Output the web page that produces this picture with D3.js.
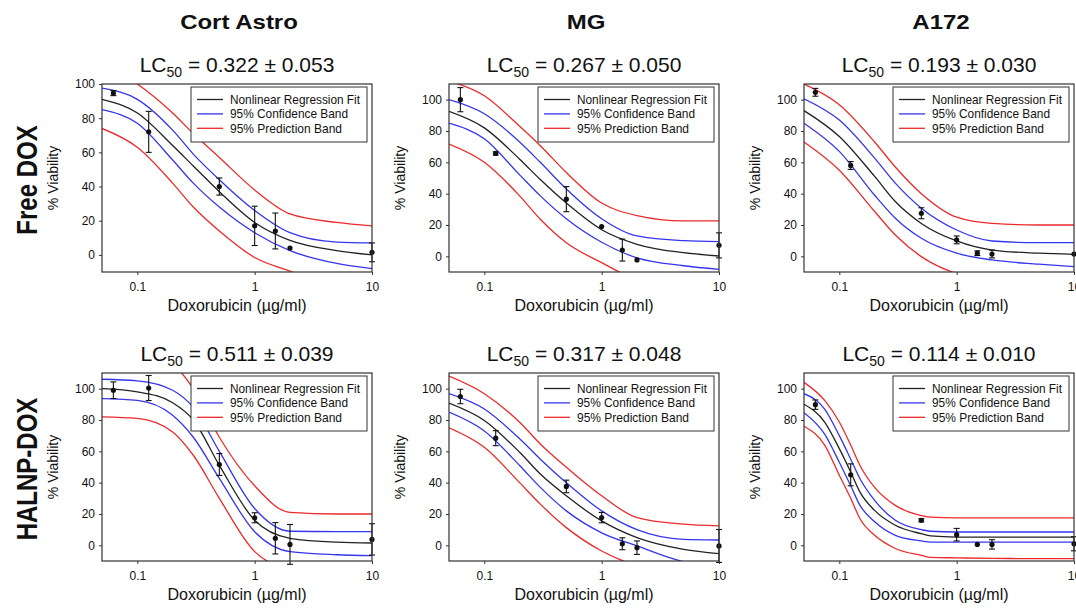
<!DOCTYPE html>
<html>
<head>
<meta charset="utf-8">
<script src="https://cdn.jsdelivr.net/npm/d3@7"></script>
<style>
  body { margin: 0; background: #fff; }
  text { font-family: "Liberation Sans", Arial, sans-serif; fill: #111; }
</style>
</head>
<body>
<div id="chart"></div>
<script>
// columns / rows of the figure
const cellLines = ["Cort Astro", "MG", "A172"];
const treatments = ["Free DOX", "HALNP-DOX"];
// panel order: Free DOX (Cort Astro, MG, A172), then HALNP-DOX (same)
const lc50Text = ["0.322 ± 0.053", "0.267 ± 0.050", "0.193 ± 0.030",
                  "0.511 ± 0.039", "0.317 ± 0.048", "0.114 ± 0.010"];
const yMax = [100, 110, 110, 110, 110, 110];
const xTicks = [0.1, 1, 10];
const yTicks = [0, 20, 40, 60, 80, 100];
const legendLabels = ["Nonlinear Regression Fit", "95% Confidence Band", "95% Prediction Band"];

// measured doses and mean viability (+/- error)
const doses = [0.0625, 0.125, 0.5, 1, 1.5, 2, 10];
const viability = [
  [94.7, 72, 40, 17, 14, 4, 1.5],
  [100, 65.7, 36.5, 19, 4, -2.3, 7],
  [104.7, 58, 27.5, 10.5, 2, 1.5, 1.5],
  [99, 100.4, 51.6, 17.6, 4.5, 0.6, 3.8],
  [95, 68.4, 37.6, 17.7, 1, -1.5, -0.4],
  [89.8, 45, 16, 6.8, 0.6, 0.6, 1]
];
const viabilityErr = [
  [1.5, 12, 5, 11.5, 10.5, 0.5, 5.5],
  [7.7, 1, 8, 0.5, 7, 0, 8],
  [2.5, 2.5, 3.5, 2.5, 1.5, 2.5, 0.5],
  [5.3, 8, 7, 3.2, 10, 12.7, 10],
  [4.6, 4.8, 4, 3.3, 3.8, 4.3, 10.5],
  [3, 7, 1, 4, 0.5, 3, 4.5]
];

// curves at these concentrations
const gridCoarse = [0.05, 0.1, 0.2, 0.3, 0.5, 1, 2, 5, 10];
const gridFine = [0.05, 0.075, 0.1, 0.125, 0.15, 0.2, 0.3, 0.5, 0.6, 1, 2, 5, 10];
const curveGrid = [gridCoarse, gridCoarse, gridCoarse, gridCoarse, gridCoarse, gridFine];

const fitCurve = [
  [91, 83, 64, 52, 37, 19, 8.5, 2.5, 0],
  [92.5, 82, 62, 49, 34, 17, 7.7, 2.3, 0.2],
  [93, 76.5, 51, 35, 21, 9.8, 4, 2, 1.3],
  [100, 98, 91, 80, 51, 16, 4.5, 2, 1.5],
  [90.8, 79.7, 59.4, 45.5, 31.6, 15.6, 4.9, -2.6, -5.3],
  [90, 78.7, 61.7, 46.8, 34, 22.3, 12.8, 7.4, 6, 5.3, 5.3, 5.3, 5.3]
];
const confUpper = [
  [97.6, 91, 73, 59, 44, 26, 13, 7.5, 7],
  [100, 91, 73, 60, 43, 24, 13, 10, 9.4],
  [100.6, 87, 62.7, 46.7, 30.7, 16.8, 9.8, 8.7, 8.7],
  [106, 105, 99, 88, 60, 23.5, 9, 8.7, 8.7],
  [96.8, 87, 68, 55, 40, 22, 10, 3.8, 3.4],
  [96.8, 87, 70, 55, 42.5, 28.7, 16, 10, 9, 8.5, 8.5, 8.5, 8.5]
];
const confLower = [
  [85, 77, 55.5, 42, 28, 13, 2.5, -5, -8],
  [85, 75, 52, 38.6, 24, 9, -1, -6, -8.3],
  [85, 67, 39, 24.3, 11.5, 2, -2.3, -5, -6.6],
  [93.6, 92.5, 83, 69, 42.7, 8.7, -4, -6, -6.6],
  [85, 73, 51, 37, 22, 8, -0.4, -10.5, -14],
  [84.7, 71, 53, 38, 25.5, 15, 6.4, 2.8, 2, 2, 2, 2, 2]
];
const predUpper = [
  [112, 100, 83, 71, 57, 38, 24, 19, 17],
  [112, 102.5, 83, 70.6, 53.5, 34, 26, 22.6, 22.6],
  [110, 96.8, 73, 57, 40, 25, 21, 20, 20],
  [128, 126, 116, 100, 69, 38, 21, 20, 20],
  [108, 96.8, 78.6, 64.7, 49.8, 31.6, 17.7, 13.5, 12.4],
  [104, 92.5, 78.7, 64, 51, 37, 25.5, 19, 18, 17.5, 17.5, 17.5, 17.5]
];
const predLower = [
  [74, 63, 42, 28, 14, -1.5, -9.5, -20, -22],
  [71.6, 60, 38.6, 23.7, 8.7, -4, -15, -20, -22],
  [73, 55, 28.6, 13.6, -0.2, -11, -15, -17, -18],
  [82, 81, 72.4, 57.5, 30, -4, -15, -18, -18],
  [75, 62.6, 40, 26.3, 11.3, -3.6, -13, -18, -20],
  [76, 64, 44.7, 30, 17, 6.4, -2, -6.4, -7.7, -8, -8.3, -8.5, -8.5]
];

const colBlack = "#222", colBlue = "#3535ee", colRed = "#ee2a2a";

const W = 1076, H = 611;
const plotW = 270, plotH = 188;
const colLeft = [102, 449, 804];
const rowTop = [84, 373];

const svg = d3.select("#chart").append("svg")
  .attr("width", W).attr("height", H);
svg.append("rect").attr("width", W).attr("height", H).attr("fill", "#fff");

// column titles
cellLines.forEach((name, c) => {
  svg.append("text")
    .attr("transform", `translate(${colLeft[c] + plotW / 2 + 2},29) scale(1.2,1)`)
    .attr("text-anchor", "middle")
    .style("font-size", "20px").style("font-weight", "bold")
    .text(name);
});

// row titles
treatments.forEach((name, r) => {
  svg.append("text")
    .attr("transform", `translate(37,${rowTop[r] + plotH / 2 + 2}) scale(1.25,1) rotate(-90)`)
    .attr("text-anchor", "middle")
    .style("font-size", "24px").style("font-weight", "bold")
    .text(name);
});

for (let p = 0; p < 6; p++) {
  const r = Math.floor(p / 3), c = p % 3;
  const left = colLeft[c], top = rowTop[r];

  const x = d3.scaleLog().domain([0.05, 10]).range([0, plotW]);
  const y = d3.scaleLinear().domain([-10, yMax[p]]).range([plotH, 0]);

  const g = svg.append("g").attr("transform", `translate(${left},${top})`);

  // LC50 heading
  const t = g.append("text")
    .attr("x", plotW / 2).attr("y", -12)
    .attr("text-anchor", "middle")
    .style("font-size", "21px");
  t.append("tspan").text("LC");
  t.append("tspan").attr("dy", 5).style("font-size", "14px").text("50");
  t.append("tspan").attr("dy", -5).text(" = " + lc50Text[p]);

  const clipId = "clip" + p;
  g.append("clipPath").attr("id", clipId)
    .append("rect").attr("width", plotW).attr("height", plotH);

  const line = d3.line()
    .x(d => x(d[0])).y(d => y(d[1]))
    .curve(d3.curveMonotoneX);

  const grid = curveGrid[p];
  const curves = [
    [predUpper[p], colRed], [predLower[p], colRed],
    [confUpper[p], colBlue], [confLower[p], colBlue],
    [fitCurve[p], colBlack]
  ];
  const cg = g.append("g").attr("clip-path", `url(#${clipId})`);
  curves.forEach(([vals, col]) => {
    cg.append("path")
      .datum(grid.map((xv, i) => [xv, vals[i]]))
      .attr("d", line)
      .attr("fill", "none")
      .attr("stroke", col)
      .attr("stroke-width", 1.3);
  });

  // error bars + points
  const pts = doses.map((d, i) => ({x: d, v: viability[p][i], e: viabilityErr[p][i]}));
  const eb = g.append("g").attr("stroke", "#111").attr("stroke-width", 1.1);
  pts.filter(d => d.e > 0.8).forEach(d => {
    const px = x(d.x);
    eb.append("line").attr("x1", px).attr("x2", px)
      .attr("y1", y(d.v - d.e)).attr("y2", y(d.v + d.e));
    eb.append("line").attr("x1", px - 3).attr("x2", px + 3)
      .attr("y1", y(d.v - d.e)).attr("y2", y(d.v - d.e));
    eb.append("line").attr("x1", px - 3).attr("x2", px + 3)
      .attr("y1", y(d.v + d.e)).attr("y2", y(d.v + d.e));
  });
  g.selectAll(".pt").data(pts).enter().append("circle")
    .attr("class", "pt")
    .attr("cx", d => x(d.x)).attr("cy", d => y(d.v))
    .attr("r", 2.6).attr("fill", "#111");

  // axes
  const yAxis = g.append("g")
    .call(d3.axisLeft(y).tickValues(yTicks).tickSize(3).tickPadding(4));
  const xAxis = g.append("g").attr("transform", `translate(0,${plotH})`)
    .call(d3.axisBottom(x).tickValues(xTicks).tickFormat(d3.format("")).tickSize(3).tickPadding(7));
  [yAxis, xAxis].forEach(a => {
    a.select(".domain").remove();
    a.selectAll("line").attr("stroke", "#333");
    a.selectAll("text").style("font-size", "12px").style("font-family", "Liberation Sans, Arial, sans-serif").attr("fill", "#111");
  });

  // frame
  g.append("rect").attr("width", plotW).attr("height", plotH)
    .attr("fill", "none").attr("stroke", "#333").attr("stroke-width", 1.2);

  // legend
  const lw = 176, lh = 55;
  const lg = g.append("g").attr("transform", `translate(${plotW - 5 - lw},3)`);
  lg.append("rect").attr("width", lw).attr("height", lh)
    .attr("fill", "#fff").attr("stroke", "#333").attr("stroke-width", 1);
  const legendCols = [colBlack, colBlue, colRed];
  const legendLen = [130, 118, 112];
  legendLabels.forEach((lab, i) => {
    const ly = 12.5 + i * 14.4;
    lg.append("line").attr("x1", 6).attr("x2", 32).attr("y1", ly).attr("y2", ly)
      .attr("stroke", legendCols[i]).attr("stroke-width", 1.3);
    lg.append("text").attr("x", 39).attr("y", ly + 4.5)
      .style("font-size", "13px")
      .style("font-family", "'Liberation Sans Narrow', 'Arial Narrow', 'Liberation Sans', sans-serif")
      .attr("textLength", legendLen[i]).attr("lengthAdjust", "spacingAndGlyphs")
      .text(lab);
  });

  // axis titles
  g.append("text")
    .attr("transform", `translate(-44,${plotH / 2}) rotate(-90)`)
    .attr("text-anchor", "middle").style("font-size", "14px")
    .text("% Viability");
  g.append("text")
    .attr("x", plotW / 2).attr("y", plotH + 39)
    .attr("text-anchor", "middle").style("font-size", "16px")
    .text("Doxorubicin (µg/ml)");
}
</script>
</body>
</html>
